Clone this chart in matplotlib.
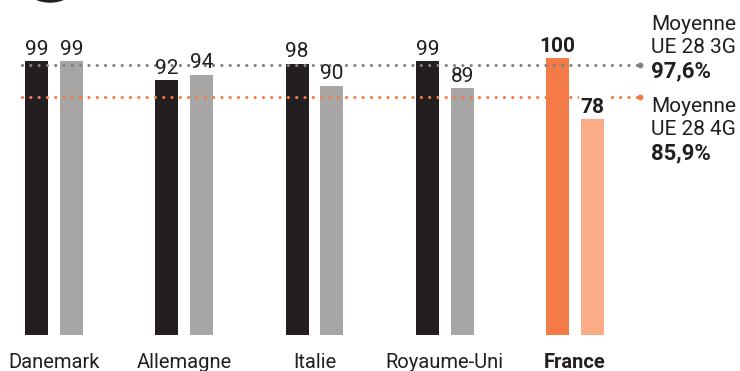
import matplotlib
matplotlib.use('Agg')
import matplotlib.pyplot as plt
from matplotlib.patches import Ellipse
import numpy as np

plt.rcParams['font.family'] = ['Roboto', 'DejaVu Sans']

pays = ['Danemark', 'Allemagne', 'Italie', 'Royaume-Uni', 'France']
couv_3g = [99, 92, 98, 99, 100]
couv_4g = [99, 94, 90, 89, 78]
moyenne_3g = 97.6
moyenne_4g = 85.9

noir = '#231f20'
gris = '#a7a6a4'
orange = '#f47b47'
orange_clair = '#f9ac85'
gris_pointille = '#7d8482'

W, H = 740, 371
fig = plt.figure(figsize=(W / 100, H / 100), dpi=100)

# axes cover the whole width; one group = 130.25 px, first group at x=54 px
pas = 130.25
x0 = 54
ax = fig.add_axes([0, 36 / H, 1, 335 / H])
ax.set_xlim(-x0 / pas, (W - x0) / pas)
ax.set_ylim(0, 335 / 2.77)
ax.axis('off')

x = np.arange(len(pays))
larg = 0.177
dx = 0.133
c3 = [noir] * 4 + [orange]
c4 = [gris] * 4 + [orange_clair]
ax.bar(x - dx, couv_3g, larg, color=c3, zorder=2)
ax.bar(x + dx, couv_4g, larg, color=c4, zorder=2)

# dotted average lines, drawn over the bars
xl = [(22 - x0) / pas, (640 - x0) / pas]
for val, col in [(moyenne_3g, gris_pointille), (moyenne_4g, orange)]:
    ax.plot(xl, [val, val], color=col, lw=2.3, dashes=[0.001, 2.6],
            dash_capstyle='round', zorder=3)
    ax.plot(xl[1], val, 'o', color=col, ms=4.2, mew=0, zorder=3)

# value labels
for i in range(len(pays)):
    fra = pays[i] == 'France'
    for xx, v in [(x[i] - dx, couv_3g[i]), (x[i] + dx, couv_4g[i])]:
        t = ax.annotate(str(v), (xx, v), xytext=(0, 4.5), textcoords='offset points',
                        ha='center', va='baseline', fontsize=15, color=noir,
                        fontweight='bold' if fra else 'normal', zorder=4)
        if fra:
            t.set_bbox(dict(facecolor='white', edgecolor='none', pad=1))

# country names
for i, p in enumerate(pays):
    fig.text((x0 + i * pas) / W, 1 - 368 / H, p, ha='center', va='baseline',
             fontsize=14.5, color=noir,
             fontweight='bold' if p == 'France' else 'normal')

# right-hand legend text
def pct(v):
    return f'{v:.1f}'.replace('.', ',') + '%'

lignes = [('Moyenne', 30, 'normal'), ('UE 28 3G', 53, 'normal'),
          (pct(moyenne_3g), 77, 'bold'),
          ('Moyenne', 112, 'normal'), ('UE 28 4G', 135, 'normal'),
          (pct(moyenne_4g), 159, 'bold')]
for txt, yb, fw in lignes:
    fig.text(651 / W, 1 - yb / H, txt, ha='left', va='baseline',
             fontsize=16 if fw == 'bold' else 15, color=noir, fontweight=fw)

# icon cut off at the top edge
fig.patches.append(Ellipse((50 / W, 1 + 8 / H), 40 / W, 20 / H, color=noir,
                           transform=fig.transFigure, figure=fig))

fig.savefig('out.png', dpi=100)
